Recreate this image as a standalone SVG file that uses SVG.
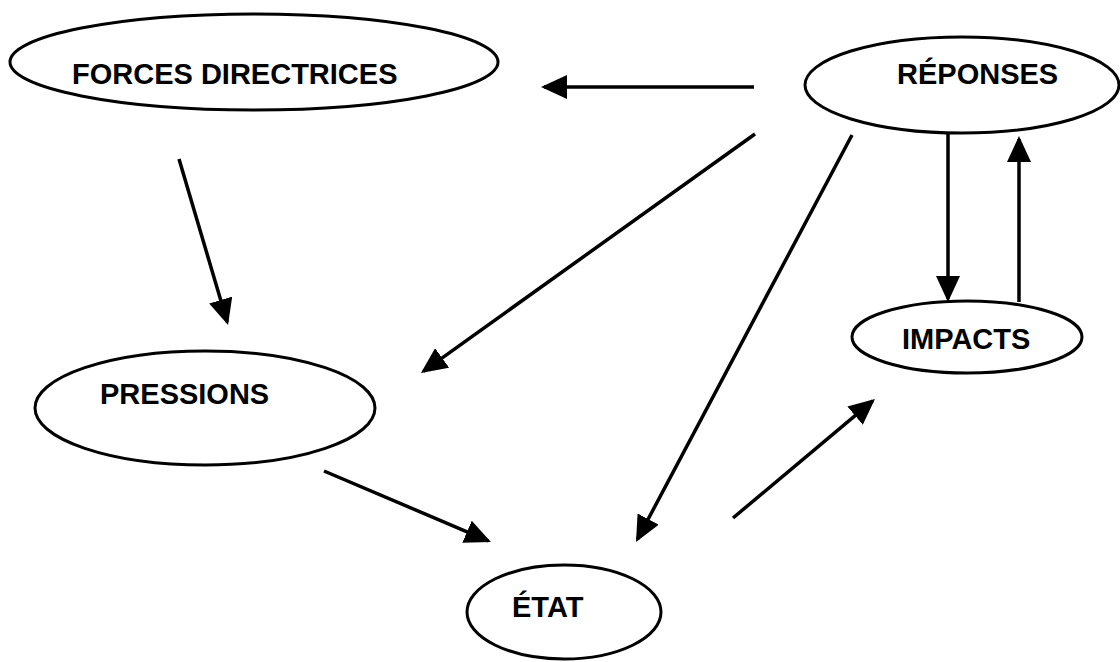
<svg xmlns="http://www.w3.org/2000/svg" width="1120" height="662" viewBox="0 0 1120 662">
  <style>
    .node { fill: #ffffff; stroke: #000000; stroke-width: 3; }
    .label { font-family: "Liberation Sans", Arial, sans-serif; font-weight: bold; font-size: 29px; fill: #000000; }
    .edge { stroke: #000000; stroke-width: 3.5; fill: none; marker-end: url(#arrow); }
  </style>
  <defs>
    <marker id="arrow" markerUnits="userSpaceOnUse" viewBox="0 0 26 24" refX="23" refY="12" markerWidth="26" markerHeight="24" orient="auto">
      <path d="M0,0 L26,12 L0,24 z" fill="#000000"/>
    </marker>
  </defs>
  <rect x="0" y="0" width="1120" height="662" fill="#ffffff"/>

  <g id="forces">
    <ellipse class="node" cx="254" cy="62" rx="244" ry="48"/>
    <text class="label" x="72" y="84">FORCES DIRECTRICES</text>
  </g>
  <g id="reponses">
    <ellipse class="node" cx="962" cy="85" rx="157" ry="48"/>
    <text class="label" x="897" y="84">RÉPONSES</text>
  </g>
  <g id="impacts">
    <ellipse class="node" cx="967" cy="337" rx="115" ry="36"/>
    <text class="label" x="902" y="349">IMPACTS</text>
  </g>
  <g id="pressions">
    <ellipse class="node" cx="205" cy="408" rx="170" ry="57"/>
    <text class="label" x="100" y="404">PRESSIONS</text>
  </g>
  <g id="etat">
    <ellipse class="node" cx="564" cy="612" rx="97" ry="47"/>
    <text class="label" x="512" y="617">ÉTAT</text>
  </g>

  <g id="connectors">
    <line class="edge" x1="754" y1="87" x2="544" y2="87"/>
    <line class="edge" x1="179" y1="159" x2="227.2" y2="322.1"/>
    <line class="edge" x1="755" y1="134" x2="423.4" y2="371.3"/>
    <line class="edge" x1="852" y1="135" x2="637.4" y2="539.4"/>
    <line class="edge" x1="324" y1="471" x2="488.2" y2="540.8"/>
    <line class="edge" x1="733" y1="518" x2="872.7" y2="400.9"/>
    <line class="edge" x1="948" y1="133" x2="948" y2="299"/>
    <line class="edge" x1="1019" y1="302" x2="1019" y2="139"/>
  </g>
</svg>
